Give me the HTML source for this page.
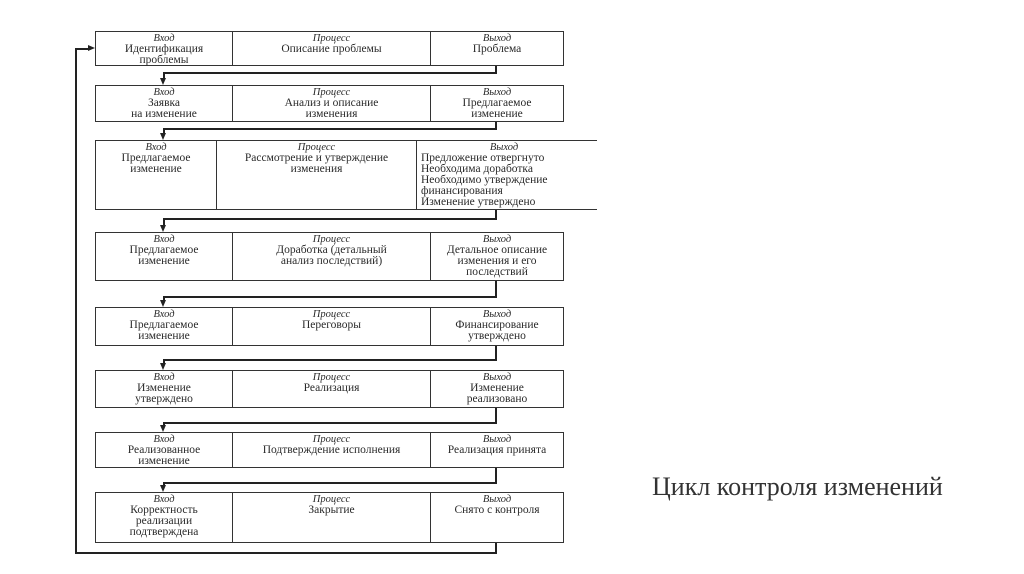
<!DOCTYPE html>
<html><head><meta charset="utf-8"><style>
body{margin:0;width:1024px;height:574px;background:#fff;position:relative;overflow:hidden;font-family:"Liberation Serif","DejaVu Serif",serif;color:#2a2a2a}
.b{position:absolute;border:1.7px solid #333;box-sizing:border-box}
.c{position:absolute;top:0;bottom:0;text-align:center;font-size:11.5px;line-height:11px;padding-top:1px;box-sizing:border-box;white-space:nowrap}
.c i{display:block;font-size:10.5px}
.l{position:absolute;background:#222}
.ar{position:absolute;width:0;height:0;border-left:3.5px solid transparent;border-right:3.5px solid transparent;border-top:7px solid #222}
</style></head><body>

<div class="b" style="left:95px;top:31px;width:469px;height:35px">
<div class="c" style="left:0;width:137px;border-right:1.7px solid #333"><i>Вход</i>Идентификация<br>проблемы</div>
<div class="c" style="left:137px;width:198px;border-right:1.7px solid #333"><i>Процесс</i>Описание проблемы</div>
<div class="c" style="left:335px;width:132px"><i>Выход</i>Проблема</div></div>

<div class="b" style="left:95px;top:85px;width:469px;height:37px">
<div class="c" style="left:0;width:137px;border-right:1.7px solid #333"><i>Вход</i>Заявка<br>на изменение</div>
<div class="c" style="left:137px;width:198px;border-right:1.7px solid #333"><i>Процесс</i>Анализ и описание<br>изменения</div>
<div class="c" style="left:335px;width:132px"><i>Выход</i>Предлагаемое<br>изменение</div></div>

<div class="b" style="left:95px;top:140px;width:502px;height:70px;border-right:none">
<div class="c" style="left:0;width:121px;border-right:1.7px solid #333"><i>Вход</i>Предлагаемое<br>изменение</div>
<div class="c" style="left:121px;width:200px;border-right:1.7px solid #333"><i>Процесс</i>Рассмотрение и утверждение<br>изменения</div>
<div class="c" style="left:321px;width:180px;text-align:left;padding-left:4px"><i style="text-align:center;padding-right:10px">Выход</i>Предложение отвергнуто<br>Необходима доработка<br>Необходимо утверждение<br>финансирования<br>Изменение утверждено</div></div>

<div class="b" style="left:95px;top:232px;width:469px;height:49px">
<div class="c" style="left:0;width:137px;border-right:1.7px solid #333"><i>Вход</i>Предлагаемое<br>изменение</div>
<div class="c" style="left:137px;width:198px;border-right:1.7px solid #333"><i>Процесс</i>Доработка (детальный<br>анализ последствий)</div>
<div class="c" style="left:335px;width:132px"><i>Выход</i>Детальное описание<br>изменения и его<br>последствий</div></div>

<div class="b" style="left:95px;top:307px;width:469px;height:39px">
<div class="c" style="left:0;width:137px;border-right:1.7px solid #333"><i>Вход</i>Предлагаемое<br>изменение</div>
<div class="c" style="left:137px;width:198px;border-right:1.7px solid #333"><i>Процесс</i>Переговоры</div>
<div class="c" style="left:335px;width:132px"><i>Выход</i>Финансирование<br>утверждено</div></div>

<div class="b" style="left:95px;top:370px;width:469px;height:38px">
<div class="c" style="left:0;width:137px;border-right:1.7px solid #333"><i>Вход</i>Изменение<br>утверждено</div>
<div class="c" style="left:137px;width:198px;border-right:1.7px solid #333"><i>Процесс</i>Реализация</div>
<div class="c" style="left:335px;width:132px"><i>Выход</i>Изменение<br>реализовано</div></div>

<div class="b" style="left:95px;top:432px;width:469px;height:36px">
<div class="c" style="left:0;width:137px;border-right:1.7px solid #333"><i>Вход</i>Реализованное<br>изменение</div>
<div class="c" style="left:137px;width:198px;border-right:1.7px solid #333"><i>Процесс</i>Подтверждение исполнения</div>
<div class="c" style="left:335px;width:132px"><i>Выход</i>Реализация принята</div></div>

<div class="b" style="left:95px;top:492px;width:469px;height:51px">
<div class="c" style="left:0;width:137px;border-right:1.7px solid #333"><i>Вход</i>Корректность<br>реализации<br>подтверждена</div>
<div class="c" style="left:137px;width:198px;border-right:1.7px solid #333"><i>Процесс</i>Закрытие</div>
<div class="c" style="left:335px;width:132px"><i>Выход</i>Снято с контроля</div></div>

<!-- connectors -->
<div class="l" style="left:495px;top:66px;width:1.7px;height:7px"></div>
<div class="l" style="left:163px;top:72px;width:334px;height:1.7px"></div>
<div class="l" style="left:163px;top:72px;width:1.7px;height:7px"></div><div class="ar" style="left:160px;top:78px"></div>

<div class="l" style="left:495px;top:122px;width:1.7px;height:7px"></div>
<div class="l" style="left:163px;top:128px;width:334px;height:1.7px"></div>
<div class="l" style="left:163px;top:128px;width:1.7px;height:6px"></div><div class="ar" style="left:160px;top:133px"></div>

<div class="l" style="left:495px;top:210px;width:1.7px;height:8px"></div>
<div class="l" style="left:163px;top:218px;width:334px;height:1.7px"></div>
<div class="l" style="left:163px;top:218px;width:1.7px;height:8px"></div><div class="ar" style="left:160px;top:225px"></div>

<div class="l" style="left:495px;top:281px;width:1.7px;height:15px"></div>
<div class="l" style="left:163px;top:296px;width:334px;height:1.7px"></div>
<div class="l" style="left:163px;top:296px;width:1.7px;height:5px"></div><div class="ar" style="left:160px;top:300px"></div>

<div class="l" style="left:495px;top:346px;width:1.7px;height:13px"></div>
<div class="l" style="left:163px;top:359px;width:334px;height:1.7px"></div>
<div class="l" style="left:163px;top:359px;width:1.7px;height:5px"></div><div class="ar" style="left:160px;top:363px"></div>

<div class="l" style="left:495px;top:408px;width:1.7px;height:14px"></div>
<div class="l" style="left:163px;top:422px;width:334px;height:1.7px"></div>
<div class="l" style="left:163px;top:422px;width:1.7px;height:4px"></div><div class="ar" style="left:160px;top:425px"></div>

<div class="l" style="left:495px;top:468px;width:1.7px;height:15px"></div>
<div class="l" style="left:163px;top:482px;width:334px;height:1.7px"></div>
<div class="l" style="left:163px;top:482px;width:1.7px;height:4px"></div><div class="ar" style="left:160px;top:485px"></div>

<!-- feedback -->
<div class="l" style="left:495px;top:543px;width:1.7px;height:10px"></div>
<div class="l" style="left:75px;top:552px;width:422px;height:1.7px"></div>
<div class="l" style="left:75px;top:48px;width:1.7px;height:505px"></div>
<div class="l" style="left:75px;top:48px;width:14px;height:1.7px"></div>
<div style="position:absolute;left:88px;top:45px;width:0;height:0;border-top:3.5px solid transparent;border-bottom:3.5px solid transparent;border-left:7px solid #222"></div>

<div style="position:absolute;left:652px;top:472px;font-size:26px;color:#333;white-space:nowrap">Цикл контроля изменений</div>
</body></html>
